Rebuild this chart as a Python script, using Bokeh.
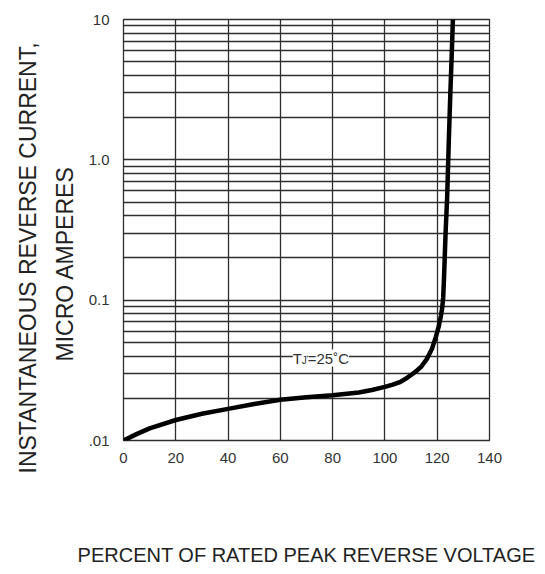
from bokeh.plotting import figure
from bokeh.models import FixedTicker, Label, ColumnDataSource, Title
from bokeh.embed import file_html
from bokeh.resources import INLINE

# ---- data ----
pct = [0, 5, 10, 20, 30, 40, 50, 60, 70, 80, 90, 95, 100, 103, 106, 108,
       110, 112, 114, 116, 118, 119.5, 120.6, 121.4, 121.9, 122.3,
       122.6, 123.2, 123.8, 124.4, 125.0, 125.5, 126.0]
current = [0.0100, 0.0111, 0.0122, 0.0140, 0.0155, 0.0168, 0.0182, 0.0195,
           0.0203, 0.0210, 0.0220, 0.0229, 0.0241, 0.0250, 0.0262, 0.0276,
           0.0293, 0.0312, 0.0338, 0.0380, 0.0450, 0.0550, 0.0650, 0.0770,
           0.0880, 0.1050, 0.144, 0.30, 0.54, 1.3, 2.9, 5.3, 10.0]

x_ticks = [0, 20, 40, 60, 80, 100, 120, 140]
y_ticks = [0.01, 0.1, 1, 10]
y_tick_labels = {0.01: ".01", 0.1: "0.1", 1: "1.0", 10: "10"}
y_grid = [k * 10.0 ** e for e in (-2, -1, 0) for k in range(1, 10)] + [10]

y_title_1 = "INSTANTANEOUS REVERSE CURRENT,"
y_title_2 = "MICRO AMPERES"
x_title = "PERCENT OF RATED PEAK REVERSE VOLTAGE"

label_temp = 0.04
label_x = 65.5

FONT = "Liberation Sans"
GRID = "#2e2e2e"

p = figure(frame_width=366, frame_height=421, y_axis_type="log",
           x_range=(0, 140), y_range=(0.01, 10),
           output_backend="svg", toolbar_location=None,
           min_border_left=123, min_border_right=52,
           min_border_top=19, min_border_bottom=130)

p.background_fill_color = "white"
p.border_fill_color = "white"
p.outline_line_color = GRID
p.outline_line_width = 1.3

p.xgrid.ticker = FixedTicker(ticks=x_ticks)
p.ygrid.ticker = FixedTicker(ticks=y_grid)
for g in (p.xgrid, p.ygrid):
    g.grid_line_color = GRID
    g.grid_line_width = 1.3
    g.grid_line_alpha = 1.0

p.xaxis.ticker = FixedTicker(ticks=x_ticks)
p.yaxis.ticker = FixedTicker(ticks=y_ticks)
p.yaxis.major_label_overrides = {k: v for k, v in y_tick_labels.items()}
for ax in (p.xaxis, p.yaxis):
    ax.axis_line_color = None
    ax.major_tick_line_color = None
    ax.minor_tick_line_color = None
    ax.major_label_text_font = FONT
    ax.major_label_text_font_size = "15px"
    ax.major_label_text_color = "#333333"
p.xaxis.major_label_standoff = 6
p.yaxis.major_label_standoff = 8

# x-axis title
p.xaxis.axis_label = x_title
p.xaxis.axis_label_standoff = 78
p.xaxis.axis_label_text_font = FONT
p.xaxis.axis_label_text_font_size = "20px"
p.xaxis.axis_label_text_font_style = "normal"
p.xaxis.axis_label_text_color = "#222222"

src = ColumnDataSource(dict(x=pct, y=current))
p.line("x", "y", source=src, line_color="black", line_width=4.5,
       line_join="round", line_cap="round")

# temperature label on the 0.04 grid line
p.add_layout(Label(x=label_x, y=label_temp, text="T", text_font=FONT,
                   text_font_size="15px", text_color="#333333",
                   text_baseline="middle", text_align="left",
                   background_fill_color="white", x_offset=-2, y_offset=-2))
p.add_layout(Label(x=label_x, y=label_temp, text="J", text_font=FONT,
                   text_font_size="10px", text_color="#333333",
                   text_baseline="middle", text_align="left",
                   background_fill_color="white", x_offset=7, y_offset=-4))
p.add_layout(Label(x=label_x, y=label_temp, text="=25˚C", text_font=FONT,
                   text_font_size="15px", text_color="#333333",
                   text_baseline="middle", text_align="left",
                   background_fill_color="white", x_offset=13, y_offset=-2))

# y-axis titles as side-panel titles
t2 = Title(text=y_title_2, align="left", offset=79, standoff=15,
           text_font=FONT, text_font_size="23px", text_font_style="normal",
           text_color="#222222")
t1 = Title(text=y_title_1, align="left", offset=-33, standoff=3,
           text_font=FONT, text_font_size="23px", text_font_style="normal",
           text_color="#222222")
p.add_layout(t2, "left")
p.add_layout(t1, "left")

open("out.html", "w").write(file_html(p, INLINE))
